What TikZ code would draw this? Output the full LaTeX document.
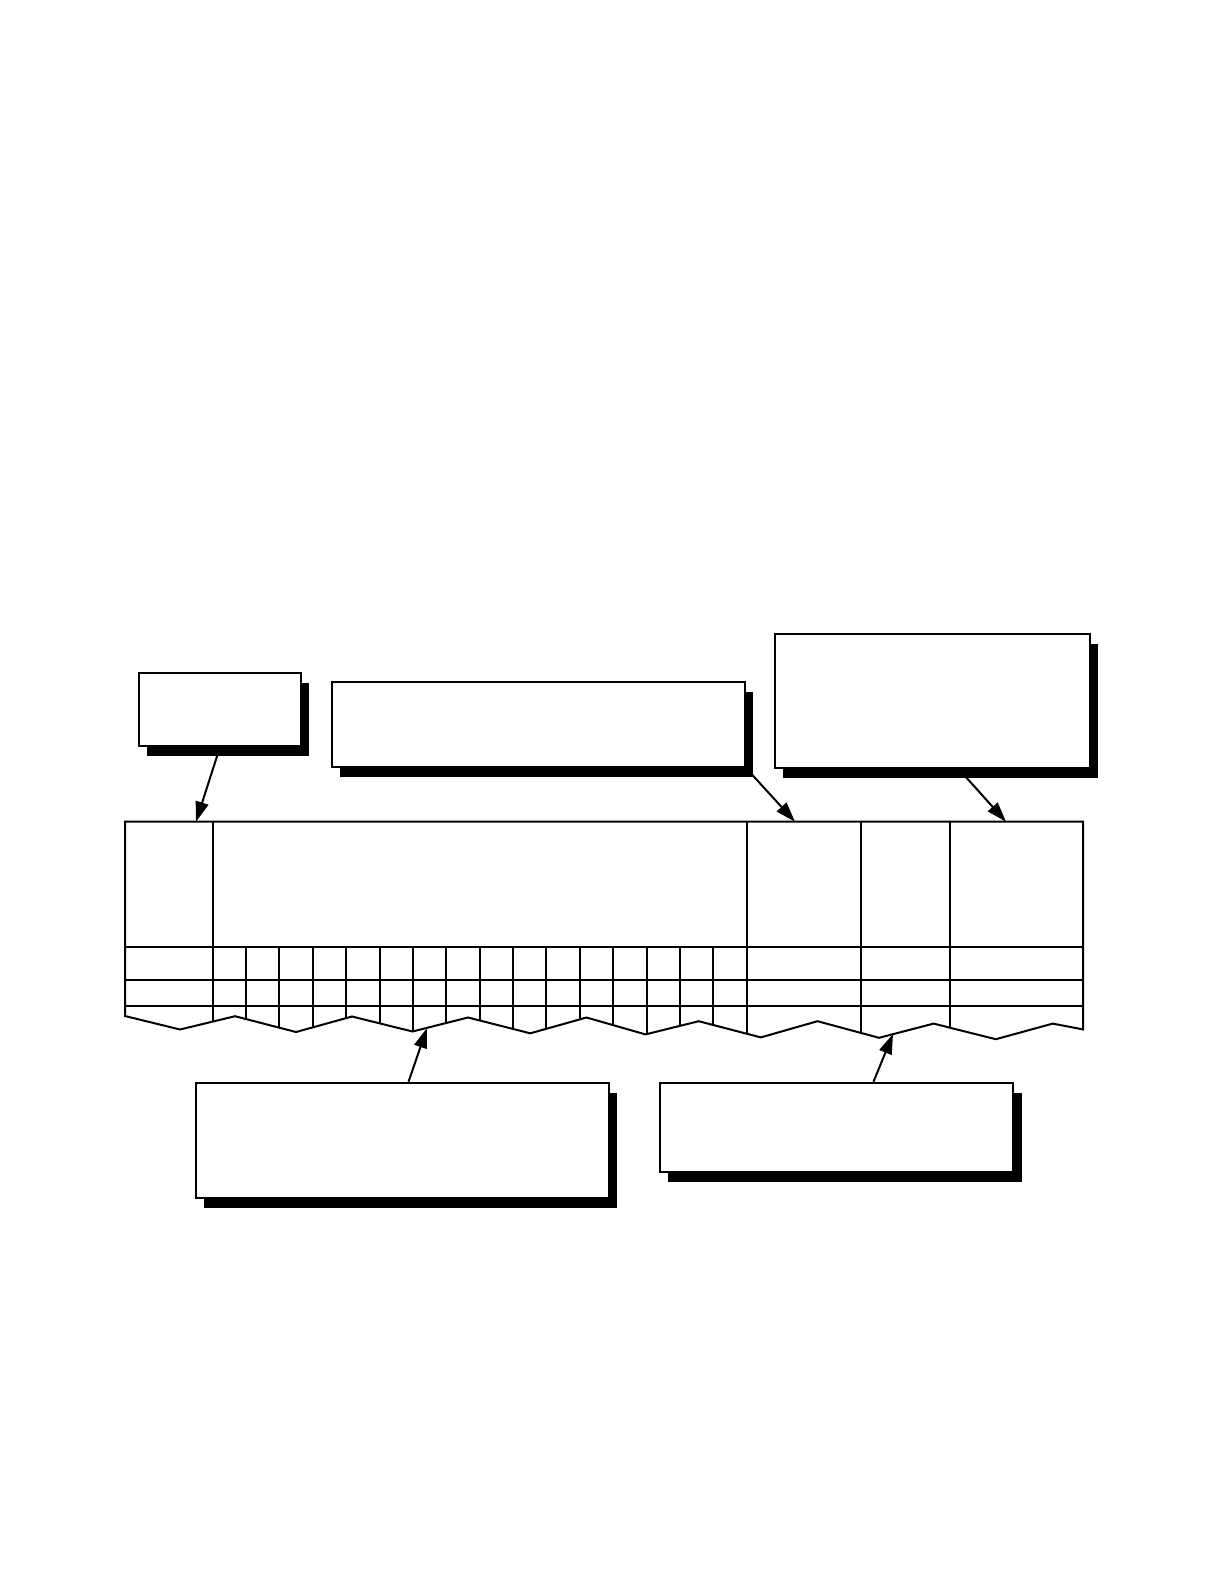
\documentclass[tikz,border=0pt]{standalone}
\usetikzlibrary{arrows.meta,shadows,calc}
\begin{document}
\begin{tikzpicture}[x=0.5pt,y=-0.5pt,
  box/.style={draw, line width=1pt, fill=white, rectangle, inner sep=0pt,
    drop shadow={shadow xshift=4.2pt, shadow yshift=-5pt, opacity=1, fill=black}},
  callout/.style={line width=1pt, -{Triangle[length=10pt,width=6.5pt]}},
  tab/.style={line width=1pt}]
\useasboundingbox (0,0) rectangle (1224,1584);
\fill[white] (0,0) rectangle (1224,1584);

% callout boxes
\node[box, minimum width=81pt, minimum height=36.5pt] (boxA) at (220,709.5) {};
\node[box, minimum width=206.65pt, minimum height=42.65pt] (boxB) at (538.35,724.35) {};
\node[box, minimum width=157.65pt, minimum height=66.85pt] (boxC) at (932.35,700.85) {};
\node[box, minimum width=206.65pt, minimum height=57.8pt] (boxD) at (402.35,1140.5) {};
\node[box, minimum width=176.65pt, minimum height=44.5pt] (boxE) at (836.65,1127.2) {};

% table
\def\outline{(125,821.7) -- (125,1016) -- (180,1029.5) -- (235,1016.2) -- (296,1032)
  -- (352,1016.5) -- (412.5,1031.5) -- (468,1017.5) -- (530.3,1033.3) -- (586.5,1017.5)
  -- (645.5,1034.4) -- (698.7,1021.2) -- (760.8,1037.4) -- (817.5,1021.2) -- (879,1037.8)
  -- (933.6,1023.6) -- (995.8,1039.2) -- (1052.7,1023.6) -- (1083,1029.4) -- (1083,821.7) -- cycle}
\begin{scope}
  \clip \outline;
  \foreach \x in {212.7,746.6,861,950}
    \draw[tab] (\x,821.7) -- (\x,1060);
  \foreach \i in {1,...,15}
    \draw[tab] ({212.7+33.37*\i},946.7) -- ({212.7+33.37*\i},1060);
  \foreach \y in {946.7,980,1006}
    \draw[tab] (125,\y) -- (1083,\y);
\end{scope}
\draw[tab, line join=miter] \outline;

% arrow targets
\coordinate (tipA) at (196,821.7);
\coordinate (tipB) at (795,821.7);
\coordinate (tipC) at (1006,821.7);
\coordinate (tipD) at (427,1028);
\coordinate (tipE) at (893,1034);

\draw[callout] (boxA.south) -- (tipA);
\draw[callout] (boxB.south east) -- (tipB);
\draw[callout] (boxC.-69) -- (tipC);
\draw[callout] (boxD.84) -- (tipD);
\draw[callout] (boxE.51.3) -- (tipE);
\end{tikzpicture}
\end{document}
